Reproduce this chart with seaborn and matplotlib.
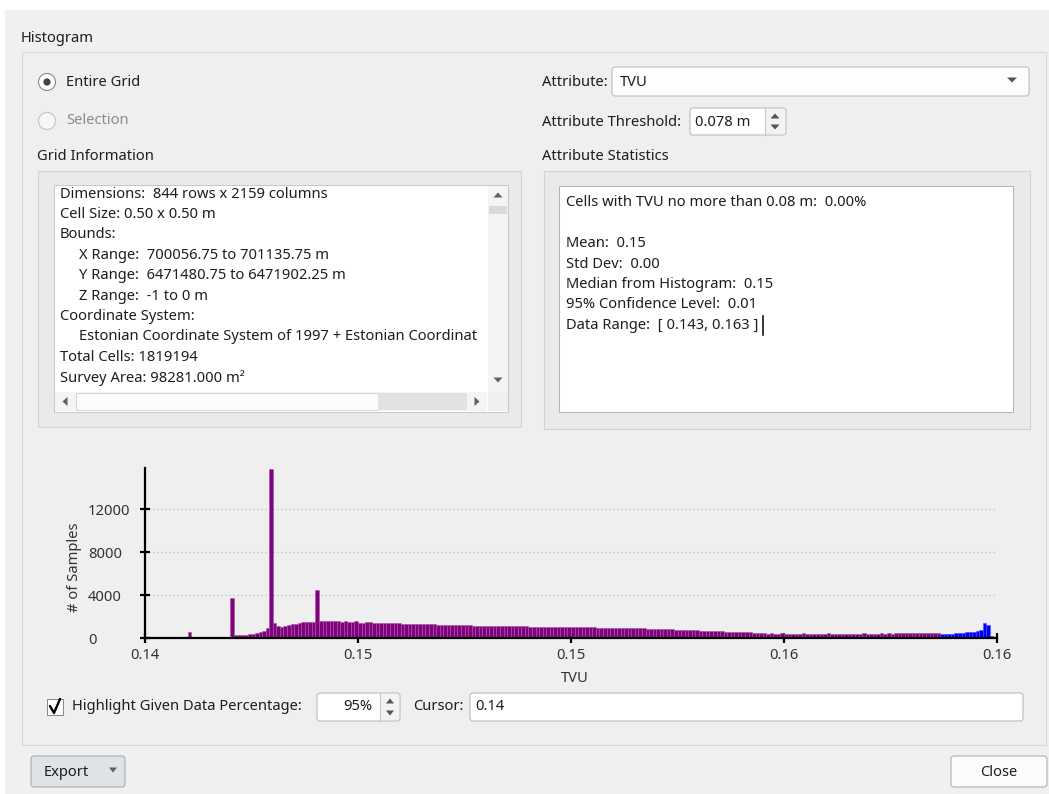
"""
TVU histogram dialog: GUI chrome drawn with patches, histogram drawn with seaborn.
"""

import matplotlib
matplotlib.use("Agg")
import matplotlib.pyplot as plt
import numpy as np
import pandas as pd
import seaborn as sns
from matplotlib.lines import Line2D
from matplotlib.patches import Circle, FancyBboxPatch, Polygon, Rectangle

W, H = 1049, 794

# ---- histogram data (counts per bin) ----
TVU_MIN, TVU_MAX = 0.143, 0.163
PURPLE_COUNTS = [
    0, 0, 0, 0, 0, 0, 0, 0, 0, 0, 0, 0, 590, 0, 0, 0,
    0, 0, 0, 0, 0, 0, 0, 0, 3720, 280, 270, 290, 300, 330, 360, 420,
    520, 640, 950, 15750, 1430, 1150, 1060, 1080, 1200, 1280, 1350, 1400, 1450, 1470, 1480, 1500,
    4500, 1560, 1590, 1550, 1540, 1570, 1550, 1530, 1540, 1510, 1480, 1620, 1440, 1420, 1450, 1460,
    1430, 1440, 1410, 1400, 1420, 1390, 1380, 1370, 1330, 1320, 1310, 1300, 1310, 1290, 1300, 1280,
    1300, 1260, 1250, 1240, 1250, 1230, 1220, 1210, 1220, 1200, 1190, 1180, 1160, 1150, 1150, 1140,
    1150, 1140, 1130, 1120, 1130, 1120, 1110, 1110, 1100, 1110, 1090, 1080, 1070, 1060, 1050, 1050,
    1040, 1030, 1030, 1020, 1010, 1020, 1000, 1010, 1000, 990, 1000, 990, 985, 980, 990, 975,
    970, 960, 965, 955, 950, 945, 940, 930, 925, 920, 910, 900, 890, 880, 870, 860,
    850, 840, 830, 815, 800, 790, 775, 760, 745, 730, 720, 705, 690, 680, 665, 650,
    640, 625, 610, 600, 585, 570, 555, 545, 530, 520, 515, 510, 505, 500, 420, 410,
    420, 415, 410, 420, 415, 410, 405, 415, 410, 420, 410, 405, 410, 415, 405, 410,
    420, 410, 405, 415, 410, 400, 410, 415, 405, 410, 420, 410, 415, 405, 410, 420,
    415, 420, 410, 425, 420, 430, 425, 420, 435, 430, 440, 435, 445, 440, 450, 455,
]
# highlighted tail (blue)
BLUE_COUNTS = [330, 350, 380, 410, 440, 470, 500, 530, 560, 600, 660, 760, 1400, 1250, 230, 0]

X_TICKS = [0.143, 0.148, 0.153, 0.158, 0.163]
X_TICK_LABELS = ["0.14", "0.15", "0.15", "0.16", "0.16"]
Y_TICKS = [0, 4000, 8000, 12000]
Y_TICK_LABELS = ["0", "4000", "8000", "12000"]
Y_MAX = 15850

GRID_INFO = [
    ("Dimensions:  844 rows x 2159 columns", 0),
    ("Cell Size: 0.50 x 0.50 m", 0),
    ("Bounds:", 0),
    ("X Range:  700056.75 to 701135.75 m", 1),
    ("Y Range:  6471480.75 to 6471902.25 m", 1),
    ("Z Range:  -1 to 0 m", 1),
    ("Coordinate System:", 0),
    ("Estonian Coordinate System of 1997 + Estonian Coordinat", 1),
    ("Total Cells: 1819194", 0),
    ("Survey Area: 98281.000 m²", 0),
]
STATS = [
    "Cells with TVU no more than 0.08 m:  0.00%",
    "",
    "Mean:  0.15",
    "Std Dev:  0.00",
    "Median from Histogram:  0.15",
    "95% Confidence Level:  0.01",
    "Data Range:  [ 0.143, 0.163 ]",
]

TXT = "#1e1e1e"
FS = 10.6
BG = "#f0f0f0"

plt.rcParams["font.family"] = ["Noto Sans", "DejaVu Sans"]

fig = plt.figure(figsize=(W / 100, H / 100), dpi=100)
fig.patch.set_facecolor("white")

ui = fig.add_axes([0, 0, 1, 1])
ui.set_xlim(0, W)
ui.set_ylim(H, 0)
ui.axis("off")


def box(x0, y0, x1, y1, fc, ec, lw=0.75, z=1, rounded=False):
    if rounded:
        p = FancyBboxPatch((x0, y0), x1 - x0, y1 - y0, boxstyle="round,pad=0,rounding_size=3",
                           facecolor=fc, edgecolor=ec, linewidth=lw, zorder=z)
    else:
        p = Rectangle((x0, y0), x1 - x0, y1 - y0, facecolor=fc, edgecolor=ec, linewidth=lw, zorder=z)
    ui.add_patch(p)
    return p


def label(x, y, s, color=TXT, size=FS, ha="left", z=5):
    return ui.text(x, y, s, ha=ha, va="center", fontsize=size, color=color, zorder=z)


def tri(cx, cy, w, h, up=True, color="#606060"):
    if up:
        pts = [(cx - w / 2, cy + h / 2), (cx + w / 2, cy + h / 2), (cx, cy - h / 2)]
    else:
        pts = [(cx - w / 2, cy - h / 2), (cx + w / 2, cy - h / 2), (cx, cy + h / 2)]
    ui.add_patch(Polygon(pts, closed=True, facecolor=color, edgecolor="none", zorder=6))


def tri_side(cx, cy, w, h, left=True, color="#606060"):
    if left:
        pts = [(cx + w / 2, cy - h / 2), (cx + w / 2, cy + h / 2), (cx - w / 2, cy)]
    else:
        pts = [(cx - w / 2, cy - h / 2), (cx - w / 2, cy + h / 2), (cx + w / 2, cy)]
    ui.add_patch(Polygon(pts, closed=True, facecolor=color, edgecolor="none", zorder=6))


# dialog background
box(5, 10, W, H, BG, "none", z=0)

# main group box
label(21, 38, "Histogram")
box(22, 52, 1046, 745, "#efefef", "#d9d9d9")

# radio buttons
ui.add_patch(Circle((47, 82), 8.5, facecolor="white", edgecolor="#8a8a8a", linewidth=0.8, zorder=3))
ui.add_patch(Circle((47, 82), 3.6, facecolor="#444444", edgecolor="none", zorder=4))
label(66, 82, "Entire Grid")
ui.add_patch(Circle((47, 121), 8.5, facecolor="#f7f7f7", edgecolor="#c4c4c4", linewidth=0.8, zorder=3))
label(66, 121, "Selection", color="#8c8c8c")

# grid information
label(37, 157, "Grid Information")
box(38, 171, 521, 427, "#eaeaea", "#d2d2d2")
box(54, 185, 508, 412, "white", "#c8c8c8", z=2)
clip_rect = Rectangle((55, 186), 432, 205, transform=ui.transData)
for i, (line, indent) in enumerate(GRID_INFO):
    t = label(60 + 19 * indent, 194 + 20.4 * i, line)
    t.set_clip_on(True)
    t.set_clip_path(clip_rect)
# vertical scrollbar
box(488, 186, 508, 392, "#f4f4f4", "none", z=3)
box(489, 206, 507, 214, "#dadada", "none", z=3)
tri(498, 195, 9, 5, up=True)
tri(498, 380, 9, 5, up=False)
# horizontal scrollbar
box(55, 392, 487, 411, "#f4f4f4", "none", z=3)
box(76, 393, 378, 410, "#fbfbfb", "#cfcfcf", lw=0.6, z=3)
box(378, 393, 467, 410, "#e2e2e2", "none", z=3)
tri_side(65, 401.5, 5, 9, left=True)
tri_side(477, 401.5, 5, 9, left=False)
box(488, 392, 508, 411, "#f0f0f0", "none", z=3)

# attribute controls
label(542, 82, "Attribute:")
box(612, 67, 1029, 96, "#fdfdfd", "#b9b9b9", z=2, rounded=True)
label(620, 82, "TVU")
tri(1012, 80, 10, 5, up=False, color="#555555")

label(542, 122, "Attribute Threshold:")
box(690, 108, 786, 135, "white", "#b9b9b9", z=2, rounded=True)
box(765, 109, 785, 134, "#f3f3f3", "none", z=3)
ui.add_artist(Line2D([765, 765], [108, 135], color="#c8c8c8", linewidth=0.8, zorder=4))
label(695, 122, "0.078 m")
tri(775, 116, 9, 5, up=True, color="#555555")
tri(775, 127, 9, 5, up=False, color="#555555")

# attribute statistics
label(542, 157, "Attribute Statistics")
box(544, 171, 1030, 429, "#eaeaea", "#d2d2d2")
box(559, 186, 1013, 412, "white", "#b5b5b5", z=2)
for i, line in enumerate(STATS):
    if line:
        label(566, 203 + 20.4 * i, line)
ui.add_artist(Line2D([763, 763], [316, 335], color="black", linewidth=1.1, zorder=6))

# bottom controls
box(47, 699, 63, 715, "white", "#8a8a8a", z=3)
ui.add_artist(Line2D([50, 54, 60], [706, 713, 699], color="black", linewidth=1.7, zorder=4,
                     solid_capstyle="round", solid_joinstyle="round"))
label(72, 707, "Highlight Given Data Percentage:")
box(317, 693, 400, 721, "white", "#b9b9b9", z=2, rounded=True)
box(380, 694, 399, 720, "#f3f3f3", "none", z=3)
ui.add_artist(Line2D([380, 380], [693, 721], color="#c8c8c8", linewidth=0.8, zorder=4))
label(372, 707, "95%", ha="right")
tri(390, 701, 8, 5, up=True, color="#555555")
tri(390, 713, 8, 5, up=False, color="#555555")
label(413, 707, "Cursor:")
box(470, 693, 1023, 721, "white", "#b9b9b9", z=2, rounded=True)
label(475, 707, "0.14")

# buttons
box(31, 756, 125, 787, "#dfe3e8", "#a9a9a9", z=2, rounded=True)
label(44, 772, "Export")
tri(113, 770, 8, 5, up=False, color="#606060")
box(951, 756, 1047, 787, "#fbfbfb", "#acacac", z=2, rounded=True)
label(999, 772, "Close", ha="center")

# ---- histogram ----
ax = fig.add_axes([145 / W, 1 - 638 / H, 852 / W, 170 / H])
ax.set_facecolor("none")

edges = np.linspace(TVU_MIN, TVU_MAX, len(PURPLE_COUNTS) + len(BLUE_COUNTS) + 1)
centers = (edges[:-1] + edges[1:]) / 2
n_p = len(PURPLE_COUNTS)
purple_df = pd.DataFrame({"TVU": centers[:n_p], "count": PURPLE_COUNTS})
blue_df = pd.DataFrame({"TVU": centers[n_p:], "count": BLUE_COUNTS})
bin_edges = edges.tolist()
sns.histplot(data=purple_df, x="TVU", weights="count", bins=bin_edges, color="#800080",
             edgecolor="#a556a5", linewidth=0.4, alpha=1, ax=ax)
sns.histplot(data=blue_df, x="TVU", weights="count", bins=bin_edges, color="#0000ff",
             edgecolor="#4a4aff", linewidth=0.4, alpha=1, ax=ax)

ax.set_xlim(TVU_MIN, TVU_MAX)
ax.set_ylim(0, Y_MAX)
ax.set_xticks(X_TICKS)
ax.set_xticklabels(X_TICK_LABELS)
ax.set_yticks(Y_TICKS)
ax.set_yticklabels(Y_TICK_LABELS)
for lbl in ax.get_yticklabels():
    lbl.set_horizontalalignment("left")

for side in ("top", "right"):
    ax.spines[side].set_visible(False)
for side in ("left", "bottom"):
    ax.spines[side].set_linewidth(1.6)
    ax.spines[side].set_color("black")

ax.tick_params(direction="inout", length=7, width=1.6, color="black",
               labelsize=FS, labelcolor="#333333")
ax.tick_params(axis="x", pad=4.0)
ax.tick_params(axis="y", pad=37.5)

ax.set_axisbelow(True)
ax.yaxis.grid(True, linestyle=(0, (1, 2.2)), color="#bdbdbd", linewidth=0.9)
ax.xaxis.grid(False)

ax.set_xlabel("TVU", fontsize=FS, color="#333333")
ax.set_ylabel("# of Samples", fontsize=FS, color="#333333")
ax.xaxis.set_label_coords((575 - 145) / 852, -(678 - 638) / 170)
ax.xaxis.label.set_verticalalignment("center")
ax.yaxis.set_label_coords((75 - 145) / 852, (638 - 567) / 170)
ax.yaxis.label.set_verticalalignment("center")

fig.savefig("out.png", dpi=100, facecolor=fig.get_facecolor())
